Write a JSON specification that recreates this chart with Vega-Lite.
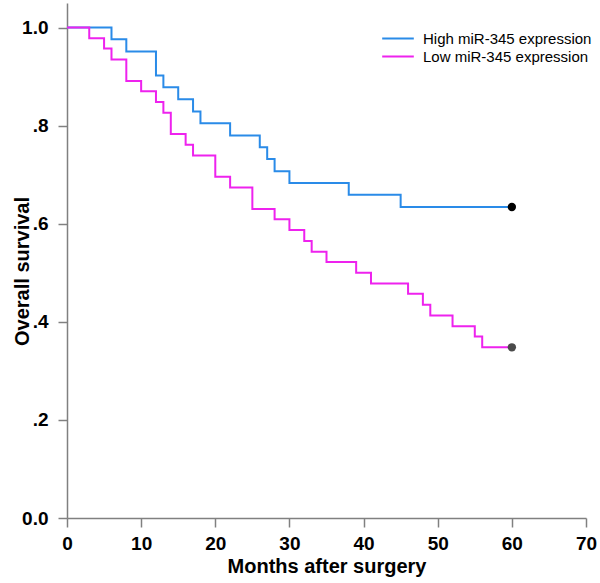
{
  "$schema": "https://vega.github.io/schema/vega-lite/v6.json",
  "autosize": "none",
  "width": 519,
  "height": 515,
  "padding": {"left": 67, "top": 3, "right": 14, "bottom": 65},
  "background": "white",
  "config": {
    "view": {"stroke": null},
    "font": "Liberation Sans",
    "axis": {
      "grid": false,
      "domainColor": "#808080",
      "tickColor": "#808080",
      "domainWidth": 1.5,
      "tickWidth": 1.5,
      "tickSize": 9,
      "labelColor": "black",
      "labelFont": "Liberation Sans",
      "labelFontWeight": "bold",
      "labelFontSize": 19,
      "titleFont": "Liberation Sans",
      "titleFontWeight": "bold",
      "titleFontSize": 20,
      "titleColor": "black"
    }
  },
  "datasets": {
    "curves": [
      {"month": 0, "surv": 1.0, "group": "High miR-345 expression"},
      {"month": 6, "surv": 0.976, "group": "High miR-345 expression"},
      {"month": 8, "surv": 0.951, "group": "High miR-345 expression"},
      {"month": 12, "surv": 0.902, "group": "High miR-345 expression"},
      {"month": 13, "surv": 0.878, "group": "High miR-345 expression"},
      {"month": 15, "surv": 0.854, "group": "High miR-345 expression"},
      {"month": 17, "surv": 0.829, "group": "High miR-345 expression"},
      {"month": 18, "surv": 0.805, "group": "High miR-345 expression"},
      {"month": 22, "surv": 0.780, "group": "High miR-345 expression"},
      {"month": 26, "surv": 0.756, "group": "High miR-345 expression"},
      {"month": 27, "surv": 0.732, "group": "High miR-345 expression"},
      {"month": 28, "surv": 0.707, "group": "High miR-345 expression"},
      {"month": 30, "surv": 0.683, "group": "High miR-345 expression"},
      {"month": 38, "surv": 0.659, "group": "High miR-345 expression"},
      {"month": 45, "surv": 0.634, "group": "High miR-345 expression"},
      {"month": 60, "surv": 0.634, "group": "High miR-345 expression"},
      {"month": 0, "surv": 1.0, "group": "Low miR-345 expression"},
      {"month": 3, "surv": 0.978, "group": "Low miR-345 expression"},
      {"month": 5, "surv": 0.957, "group": "Low miR-345 expression"},
      {"month": 6, "surv": 0.935, "group": "Low miR-345 expression"},
      {"month": 8, "surv": 0.891, "group": "Low miR-345 expression"},
      {"month": 10, "surv": 0.870, "group": "Low miR-345 expression"},
      {"month": 12, "surv": 0.848, "group": "Low miR-345 expression"},
      {"month": 13, "surv": 0.826, "group": "Low miR-345 expression"},
      {"month": 14, "surv": 0.783, "group": "Low miR-345 expression"},
      {"month": 16, "surv": 0.761, "group": "Low miR-345 expression"},
      {"month": 17, "surv": 0.739, "group": "Low miR-345 expression"},
      {"month": 20, "surv": 0.696, "group": "Low miR-345 expression"},
      {"month": 22, "surv": 0.674, "group": "Low miR-345 expression"},
      {"month": 25, "surv": 0.630, "group": "Low miR-345 expression"},
      {"month": 28, "surv": 0.609, "group": "Low miR-345 expression"},
      {"month": 30, "surv": 0.587, "group": "Low miR-345 expression"},
      {"month": 32, "surv": 0.565, "group": "Low miR-345 expression"},
      {"month": 33, "surv": 0.543, "group": "Low miR-345 expression"},
      {"month": 35, "surv": 0.522, "group": "Low miR-345 expression"},
      {"month": 39, "surv": 0.500, "group": "Low miR-345 expression"},
      {"month": 41, "surv": 0.478, "group": "Low miR-345 expression"},
      {"month": 46, "surv": 0.457, "group": "Low miR-345 expression"},
      {"month": 48, "surv": 0.435, "group": "Low miR-345 expression"},
      {"month": 49, "surv": 0.413, "group": "Low miR-345 expression"},
      {"month": 52, "surv": 0.391, "group": "Low miR-345 expression"},
      {"month": 55, "surv": 0.370, "group": "Low miR-345 expression"},
      {"month": 56, "surv": 0.348, "group": "Low miR-345 expression"},
      {"month": 60, "surv": 0.348, "group": "Low miR-345 expression"}
    ],
    "ends": [
      {"month": 60, "surv": 0.634, "group": "High miR-345 expression"},
      {"month": 60, "surv": 0.348, "group": "Low miR-345 expression"}
    ]
  },
  "layer": [
    {
      "data": {"name": "curves"},
      "mark": {"type": "line", "interpolate": "step-after", "strokeWidth": 2},
      "encoding": {
        "x": {
          "field": "month", "type": "quantitative",
          "scale": {"domain": [0, 70], "nice": false},
          "axis": {"values": [0, 10, 20, 30, 40, 50, 60, 70], "title": "Months after surgery", "labelPadding": 7, "titlePadding": 3, "labelFlush": false}
        },
        "y": {
          "field": "surv", "type": "quantitative",
          "scale": {"domain": [0, 1.05], "nice": false},
          "axis": {
            "values": [0, 0.2, 0.4, 0.6, 0.8, 1.0],
            "labelExpr": "datum.value == 0 ? '0.0' : datum.value == 1 ? '1.0' : replace(format(datum.value, '.1f'), '0.', '.')",
            "title": "Overall survival", "labelPadding": 10,
            "titleX": -45, "titleY": 268, "titleAngle": -90, "titleAlign": "center", "titleBaseline": "middle"
          }
        },
        "color": {
          "field": "group", "type": "nominal",
          "scale": {"domain": ["High miR-345 expression", "Low miR-345 expression"], "range": ["#2a8be8", "#ee22ee"]},
          "legend": {
            "title": null, "orient": "none", "legendX": 314, "legendY": 28,
            "symbolType": "stroke", "symbolSize": 1000, "symbolStrokeWidth": 2,
            "labelFont": "Liberation Sans", "labelFontSize": 15, "labelColor": "black", "labelLimit": 400,
            "clipHeight": 15, "rowPadding": 2, "labelOffset": 8
          }
        }
      }
    },
    {
      "data": {"name": "ends"},
      "mark": {"type": "point", "filled": true, "size": 70, "opacity": 1},
      "encoding": {
        "x": {"field": "month", "type": "quantitative"},
        "y": {"field": "surv", "type": "quantitative"},
        "fill": {
          "field": "group", "type": "nominal",
          "scale": {"domain": ["High miR-345 expression", "Low miR-345 expression"], "range": ["#000000", "#4a4a4a"]},
          "legend": null
        }
      }
    }
  ]
}
